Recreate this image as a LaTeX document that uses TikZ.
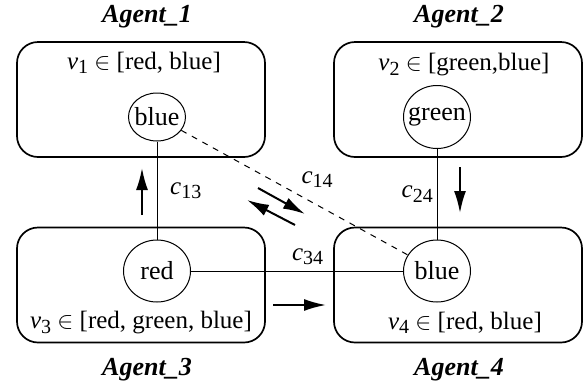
\documentclass[tikz,border=0pt]{standalone}
\usepackage{fontspec}
\setmainfont{Liberation Serif}[Ligatures=TeX]
\newfontfamily\timesfont{Liberation Serif}
\usetikzlibrary{positioning,arrows.meta,shapes.geometric}

\newcommand{\vsub}[2]{\textit{#1}\raisebox{-0.4ex}{\fontsize{10}{10}\selectfont #2}}
\newcommand{\valtext}[1]{\makebox[0pt]{#1}}

\tikzset{
  every node/.style={font=\timesfont\fontsize{12.5}{15}\selectfont},
  agentbox/.style={draw, rounded corners=10.5pt, line width=0.85pt, minimum width=124pt, minimum height=57.5pt},
  agentname/.style={font=\timesfont\fontsize{13}{15}\selectfont\bfseries\itshape},
  valnode/.style={draw, ellipse, inner sep=0pt, line width=0.5pt, font=\timesfont\fontsize{13}{15}\selectfont},
  link/.style={line width=0.5pt},
  msg/.style={line width=1pt, -{Latex[length=11pt,width=6pt]}},
}

\begin{document}
\begin{tikzpicture}[x=0.5pt,y=-0.5pt]
    \useasboundingbox (0,0) rectangle (585,387);
    % agent boxes
    \node [agentbox] (box1) at (141,99.5) {};
    \node [agentbox] (box2) at (458,99.5) {};
    \node [agentbox] (box3) at (141,285) {};
    \node [agentbox] (box4) at (458,285) {};
    % agent names
    \node [agentname] (name1) at (147,17) {Agent\_1};
    \node [agentname] (name2) at (459,17) {Agent\_2};
    \node [agentname] (name3) at (147,370) {Agent\_3};
    \node [agentname] (name4) at (459,370) {Agent\_4};
    % domains
    \node (dom1) at (144,63) {\vsub{v}{1} $\in$ [red, blue]};
    \node (dom2) at (464,65) {\vsub{v}{2} $\in$ [green,blue]};
    \node (dom3) at (141,323) {\vsub{v}{3} $\in$ [red, green, blue]};
    \node (dom4) at (465,323) {\vsub{v}{4} $\in$ [red, blue]};
    % values
    \node [valnode, minimum width=28.5pt, minimum height=24pt] (val1) at (157,117) {\valtext{blue}};
    \node [valnode, minimum width=33.5pt, minimum height=31.5pt] (val2) at (437,117) {\valtext{green}};
    \node [valnode, minimum width=33.5pt, minimum height=31pt] (val3) at (157,271) {\valtext{red}};
    \node [valnode, minimum width=33.5pt, minimum height=31pt] (val4) at (437,271) {\valtext{blue}};
    % constraints
    \draw [link] (val1) -- node [right=3pt] {\vsub{c}{13}} (val3);
    \draw [link] (val2) -- node [left=-1.5pt] {\vsub{c}{24}} (val4);
    \draw [link] (val3) -- node [pos=0.55, above=-0.5pt] {\vsub{c}{34}} (val4);
    \draw [link, dashed] (val1) -- node [pos=0.6, above=5pt] {\vsub{c}{14}} (val4);
    % messages
    \coordinate (up1) at (142,215);   \coordinate (up2) at (142,168);
    \coordinate (dn1) at (460,167);   \coordinate (dn2) at (460,213);
    \coordinate (rt1) at (273,305);   \coordinate (rt2) at (326,305);
    \coordinate (dg1) at (258,188);   \coordinate (dg2) at (305,214);
    \coordinate (dg3) at (295,225);   \coordinate (dg4) at (247,200);
    \draw [msg] (up1) -- (up2);
    \draw [msg] (dn1) -- (dn2);
    \draw [msg] (rt1) -- (rt2);
    \draw [msg] (dg1) -- (dg2);
    \draw [msg] (dg3) -- (dg4);
\end{tikzpicture}
\end{document}
